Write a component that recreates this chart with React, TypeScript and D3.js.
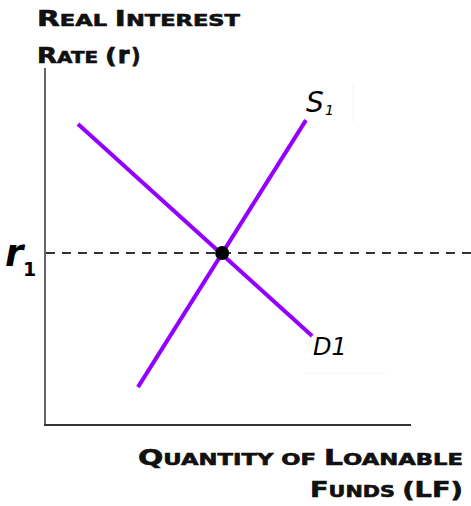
import React from "react";
import * as d3 from "d3";

const demandPoints: [number, number][] = [[9.0, 84.3], [73.0, 24.9]];
const supplyPoints: [number, number][] = [[25.4, 10.6], [71.3, 85.4]];
const equilibrium: [number, number] = [48.4, 48.2];
const yAxisLabelLines = ["Real Interest", "Rate ("];
const xAxisLabelLines = ["Quantity of Loanable", "Funds (LF)"];

const W = 471;
const H = 506;

function SmallCaps({ text, x, y, big, small, anchor, length }: any) {
  const parts: React.ReactNode[] = [];
  for (let i = 0; i < text.length; i++) {
    const ch = text[i];
    const isUpper = ch !== ch.toLowerCase() || /[()]/.test(ch);
    parts.push(
      <tspan key={i} fontSize={isUpper ? big : small}>
        {ch.toUpperCase()}
      </tspan>
    );
  }
  return (
    <text
      x={x}
      y={y}
      textAnchor={anchor || "start"}
      fontFamily="DejaVu Sans"
      fontWeight="bold"
      fill="#111"
      stroke="#111"
      strokeWidth={0.6}
      textLength={length}
      lengthAdjust="spacingAndGlyphs"
    >
      {parts}
    </text>
  );
}

export default function App() {
  const x = d3.scaleLinear().domain([0, 100]).range([45, 411]);
  const y = d3.scaleLinear().domain([0, 100]).range([425, 68]);
  const line = d3
    .line<[number, number]>()
    .x((d) => x(d[0]))
    .y((d) => y(d[1]));
  const purple = "#9300ff";
  return (
    <svg
      width={W}
      height={H}
      style={{ position: "absolute", left: 0, top: 0, background: "#fff" }}
    >
      {/* faint label boxes */}
      <line x1={353} y1={85} x2={353} y2={122} stroke="#f2f2f2" />
      <line x1={305} y1={373} x2={385} y2={373} stroke="#f2f2f2" />
      {/* axes */}
      <line x1={x(0)} y1={y(100)} x2={x(0)} y2={y(0)} stroke="#666" strokeWidth={2} />
      <line x1={x(0) - 1} y1={y(0)} x2={x(100)} y2={y(0)} stroke="#333" strokeWidth={2} />
      {/* dashed equilibrium rate line */}
      <line
        x1={x(0) + 1}
        y1={y(equilibrium[1])}
        x2={W}
        y2={y(equilibrium[1])}
        stroke="#333"
        strokeWidth={2}
        strokeDasharray="9,7"
      />
      <path d={line(demandPoints) || ""} stroke={purple} strokeWidth={4} fill="none" />
      <path d={line(supplyPoints) || ""} stroke={purple} strokeWidth={4} fill="none" />
      <circle cx={x(equilibrium[0])} cy={y(equilibrium[1])} r={7} fill="#000" />
      {/* y axis label */}
      <SmallCaps text={yAxisLabelLines[0]} x={37} y={26} big={21} small={16} length={203} />
      <SmallCaps text={yAxisLabelLines[1]} x={37} y={63} big={21} small={16} length={80} />
      <text x={118} y={63} fontFamily="DejaVu Sans" fontWeight="bold" fontSize={23} fill="#111" stroke="#111" strokeWidth={1}>
        r
      </text>
      <text x={131} y={63} fontFamily="DejaVu Sans" fontWeight="bold" fontSize={21} fill="#111" stroke="#111" strokeWidth={0.6}>
        )
      </text>
      {/* r1 label */}
      <text x={5} y={266} fontFamily="DejaVu Sans" fontWeight="bold" fontStyle="italic" fontSize={37} fill="#000">
        r
      </text>
      <text x={23} y={276} fontFamily="DejaVu Sans" fontWeight="bold" fontSize={19} fill="#000">
        1
      </text>
      {/* x axis label */}
      <SmallCaps text={xAxisLabelLines[0]} x={463} y={465} big={21} small={16} anchor="end" length={325} />
      <SmallCaps text={xAxisLabelLines[1]} x={463} y={497} big={21} small={16} anchor="end" length={153} />
      {/* curve labels */}
      <text x={306} y={112} fontFamily="DejaVu Sans" fontStyle="italic" fontSize={28} fill="#000">
        S
      </text>
      <text x={325} y={115} fontFamily="DejaVu Sans" fontStyle="italic" fontSize={14} fill="#000">
        1
      </text>
      <text x={313} y={355} fontFamily="DejaVu Sans" fontStyle="italic" fontSize={24} fill="#000">
        D1
      </text>
    </svg>
  );
}
